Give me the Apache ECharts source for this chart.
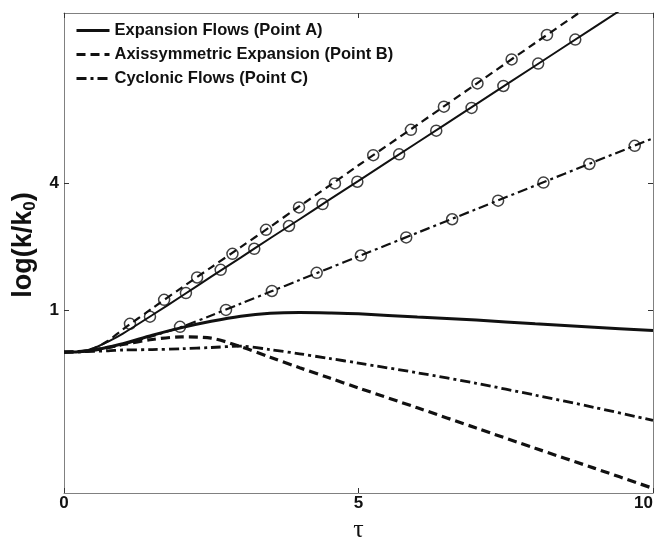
<!DOCTYPE html>
<html>
<head>
<meta charset="utf-8">
<script src="https://cdn.jsdelivr.net/npm/echarts@6/dist/echarts.min.js"></script>
<style>
  html, body { margin: 0; padding: 0; background: #fff; }
  #chart { width: 656px; height: 541px; }
</style>
</head>
<body>
<div id="chart"></div>
<script>
// tau grid shared by all curves
const tau = [0, 0.25, 0.5, 0.75, 1, 1.5, 2, 2.5, 3, 3.5, 4, 4.5, 5, 6, 7, 8, 9, 10]

// upper branches (with circle markers)
const upperA = [0, 0.01, 0.09, 0.25, 0.44, 0.88, 1.33, 1.79, 2.24, 2.70, 3.15, 3.61, 4.06, 4.97, 5.88, 6.79, 7.70, 8.61]
const upperB = [0, 0.01, 0.09, 0.27, 0.54, 1.04, 1.53, 2.01, 2.49, 2.97, 3.46, 3.94, 4.43, 5.39, 6.36, 7.33, 8.29, 9.26]
const upperC = [0, 0, 0.04, 0.10, 0.18, 0.38, 0.60, 0.87, 1.15, 1.43, 1.71, 1.99, 2.27, 2.83, 3.39, 3.95, 4.51, 5.07]

// lower branches
const lowerA = [0, 0.01, 0.05, 0.12, 0.20, 0.40, 0.58, 0.73, 0.85, 0.92, 0.94, 0.93, 0.91, 0.83, 0.76, 0.67, 0.59, 0.51]
const lowerB = [0, 0.01, 0.05, 0.11, 0.18, 0.30, 0.36, 0.33, 0.13, -0.12, -0.37, -0.61, -0.85, -1.32, -1.80, -2.28, -2.75, -3.23]
const lowerC = [0, 0.01, 0.02, 0.03, 0.05, 0.06, 0.08, 0.11, 0.14, 0.06, -0.04, -0.15, -0.26, -0.49, -0.74, -1.02, -1.31, -1.62]

// circle markers on the upper branches [tau, value]
const markA = [[1.46, 0.84], [2.07, 1.40], [2.66, 1.95], [3.23, 2.45], [3.82, 2.99], [4.39, 3.51], [4.98, 4.04],
  [5.69, 4.69], [6.32, 5.25], [6.92, 5.79], [7.46, 6.31], [8.05, 6.84], [8.68, 7.41]]
const markB = [[1.12, 0.67], [1.70, 1.24], [2.26, 1.77], [2.86, 2.33], [3.43, 2.90], [3.99, 3.43], [4.60, 4.00],
  [5.25, 4.67], [5.89, 5.27], [6.45, 5.82], [7.02, 6.37], [7.60, 6.94], [8.20, 7.52]]
const markC = [[1.97, 0.60], [2.75, 1.00], [3.53, 1.45], [4.29, 1.88], [5.04, 2.29], [5.81, 2.72], [6.59, 3.15],
  [7.37, 3.59], [8.14, 4.02], [8.92, 4.46], [9.69, 4.89]]

const names = ['Expansion Flows (Point A)', 'Axissymmetric Expansion (Point B)', 'Cyclonic Flows (Point C)']
const yTicks = [1, 4]

const font = 'Liberation Sans, Arial, sans-serif'
const ink = '#111'
const frame = '#808080'

const pairs = (ys) => tau.map((t, i) => [t, ys[i]])

const lineSeries = (name, ys, type, width) => ({
  type: 'line',
  name: name,
  data: pairs(ys),
  smooth: 0.3,
  symbol: 'none',
  lineStyle: { color: ink, width: width, type: type },
  itemStyle: { color: ink },
  z: 3,
})

const markSeries = (name, pts) => ({
  type: 'scatter',
  name: name,
  data: pts,
  symbol: 'circle',
  symbolSize: 11,
  itemStyle: { color: 'rgba(255,255,255,0)', borderColor: ink, borderWidth: 1.5 },
  z: 4,
})

const dashB = [9, 5]
const dashC = [10, 4, 3, 4]

const chart = echarts.init(document.getElementById('chart'), null, { renderer: 'canvas' })

const axisCommon = {
  axisLine: { show: true, onZero: false, lineStyle: { color: frame, width: 1 } },
  axisTick: { show: true, inside: true, length: 5, lineStyle: { color: '#333', width: 1 } },
  splitLine: { show: false },
}

const option = {
  backgroundColor: '#fff',
  animation: false,
  grid: { left: 64, right: 3, top: 13, bottom: 48, containLabel: false, outerBoundsMode: 'none' },
  legend: {
    data: names,
    orient: 'vertical',
    left: 70,
    top: 17,
    itemWidth: 33,
    itemHeight: 14,
    itemGap: 7,
    lineStyle: { width: 3 },
    itemStyle: { color: 'rgba(0,0,0,0)', borderColor: 'rgba(0,0,0,0)', borderWidth: 0, opacity: 0 },
    textStyle: { fontFamily: font, fontWeight: 'bold', fontSize: 16.5, lineHeight: 17, color: ink },
  },
  xAxis: [
    {
      type: 'value',
      min: 0,
      max: 10,
      interval: 5,
      ...axisCommon,
      axisLabel: {
        show: true, margin: 2, fontFamily: font, fontWeight: 'bold', fontSize: 17, color: ink,
        alignMaxLabel: 'right',
      },
      name: 'τ',
      nameLocation: 'middle',
      nameGap: 17,
      nameTextStyle: { fontFamily: 'Liberation Serif, DejaVu Serif, serif', fontSize: 26, color: ink },
    },
    {
      type: 'value',
      position: 'top',
      min: 0,
      max: 10,
      interval: 5,
      ...axisCommon,
      axisLabel: { show: false },
    },
  ],
  yAxis: [
    {
      type: 'value',
      min: -3.34,
      max: 8.04,
      ...axisCommon,
      axisTick: { ...axisCommon.axisTick, customValues: yTicks },
      axisLabel: {
        show: true, margin: 5, customValues: yTicks,
        fontFamily: font, fontWeight: 'bold', fontSize: 17, color: ink,
      },
      name: 'log(k/k{sub|0})',
      nameLocation: 'middle',
      nameGap: 17,
      nameTextStyle: {
        fontFamily: font, fontWeight: 'bold', fontSize: 27, color: ink,
        padding: [0, 0, 0, 16],
        rich: {
          sub: { fontFamily: font, fontWeight: 'bold', fontSize: 17, color: ink, verticalAlign: 'bottom', padding: [13, 0, 0, 0] },
        },
      },
    },
    {
      type: 'value',
      position: 'right',
      min: -3.34,
      max: 8.04,
      ...axisCommon,
      axisTick: { ...axisCommon.axisTick, customValues: yTicks },
      axisLabel: { show: false },
    },
  ],
  series: [
    lineSeries(names[0], lowerA, 'solid', 3),
    lineSeries(names[1], lowerB, dashB, 3.2),
    lineSeries(names[2], lowerC, dashC, 2.8),
    lineSeries(names[0], upperA, 'solid', 2),
    lineSeries(names[1], upperB, [8, 5], 2.2),
    lineSeries(names[2], upperC, dashC, 2.2),
    markSeries('markA', markA),
    markSeries('markB', markB),
    markSeries('markC', markC),
  ],
}

chart.setOption(option)
</script>
</body>
</html>
